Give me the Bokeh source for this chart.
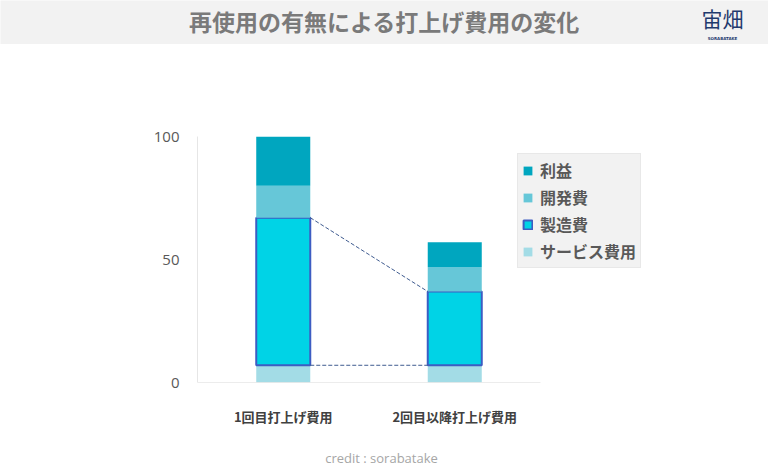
from bokeh.plotting import figure
from bokeh.models import Range1d, FixedTicker, Legend, LegendItem, ColumnDataSource
from bokeh.layouts import column
from bokeh.core.properties import value
from bokeh.embed import file_html
from bokeh.resources import INLINE

categories = ["1回目打上げ費用", "2回目以降打上げ費用"]
service = [7, 7]
manufacturing = [60, 30]
development = [13, 10]
profit = [20, 10]
series_names = ["サービス費用", "製造費", "開発費", "利益"]
y_ticks = [0, 50, 100]
title_text = "再使用の有無による打上げ費用の変化"
logo_text = "宙畑"
logo_sub = "SORABATAKE"
credit_text = "credit : sorabatake"

W = 768
BAR_W = 0.315
n = len(categories)
xs = [i + 0.5 for i in range(n)]

# ---------- header ----------
hdr = figure(width=W, height=44, output_backend="svg", toolbar_location=None,
             x_range=Range1d(0, W), y_range=Range1d(44, 0),
             x_axis_type=None, y_axis_type=None, min_border=0)
hdr.frame_align = False
hdr.outline_line_color = None
hdr.background_fill_color = "#F2F2F2"
hdr.border_fill_color = "#F2F2F2"
hdr.grid.visible = False
hdr.text(x=[384], y=[20], text=[title_text], text_font=value("Noto Sans CJK JP"),
         text_font_style="bold", text_font_size="23px", text_color="#7A7A7A",
         text_align="center", text_baseline="middle")
hdr.text(x=[722], y=[17], text=[logo_text], text_font=value("Noto Sans CJK JP"),
         text_font_size="21px", text_color="#1F3A6E",
         text_align="center", text_baseline="middle")
hdr.text(x=[722], y=[38], text=[logo_sub], text_font=value("DejaVu Sans"),
         text_font_style="bold", text_font_size="4px", text_color="#1F3A6E",
         text_align="center", text_baseline="middle")

# ---------- main chart ----------
src = ColumnDataSource(dict(x=xs, s=service, m=manufacturing, d=development, pr=profit))

p = figure(width=W, height=384, output_backend="svg", toolbar_location=None,
           x_range=Range1d(0, n * 471 / 343), y_range=Range1d(0, 100),
           min_border_left=197, min_border_right=100, min_border_top=92, min_border_bottom=44)
p.frame_align = False
p.outline_line_color = None
p.background_fill_color = "white"
p.border_fill_color = "white"
p.grid.visible = False

colors = ["#A3DCE6", "#00D3E6", "#66C7D8", "#00A6BF"]
rs = p.vbar_stack(["s", "m", "d", "pr"], x="x", width=BAR_W, source=src,
                  fill_color=colors,
                  line_color=[colors[0], "#3D5CC2", colors[2], colors[3]],
                  line_width=[0, 2, 0, 0])

# baseline
p.line([0, n], [0, 0], line_color="#D9D9D9", line_width=1)

# dashed connectors
x_right = xs[0] + BAR_W / 2
x_left = xs[1] - BAR_W / 2
top_m = [service[i] + manufacturing[i] for i in range(n)]
p.line([x_right, x_left], [top_m[0], top_m[1]], line_color="#3F5B8F", line_width=1, line_dash="4 2")
p.line([x_right, x_left], [service[0], service[1]], line_color="#3F5B8F", line_width=1, line_dash="4 2")

# axes
p.xaxis.ticker = FixedTicker(ticks=xs)
p.xaxis.major_label_overrides = {xs[i]: categories[i] for i in range(n)}
p.xaxis.major_tick_line_color = None
p.xaxis.minor_tick_line_color = None
p.xaxis.major_tick_out = 0
p.xaxis.major_tick_in = 0
p.xaxis.axis_line_color = None
p.xaxis.major_label_text_font = "Noto Sans CJK JP"
p.xaxis.major_label_text_font_style = "bold"
p.xaxis.major_label_text_font_size = "13px"
p.xaxis.major_label_text_color = "#404040"
p.xaxis.major_label_standoff = 24

p.yaxis.ticker = FixedTicker(ticks=y_ticks)
p.yaxis.major_tick_line_color = None
p.yaxis.minor_tick_line_color = None
p.yaxis.major_tick_out = 0
p.yaxis.major_tick_in = 0
p.yaxis.axis_line_color = "#E6E6E6"
p.yaxis.major_label_text_font = "Open Sans"
p.yaxis.major_label_text_font_size = "15px"
p.yaxis.major_label_text_color = "#595959"
p.yaxis.major_label_standoff = 18

# legend
order = [3, 2, 1, 0]
legend = Legend(items=[LegendItem(label=series_names[i], renderers=[rs[i]]) for i in order],
                location=(320, 114))
legend.background_fill_color = "#F2F2F2"
legend.background_fill_alpha = 1
legend.border_line_color = "#DDDDDD"
legend.label_text_font = "Noto Sans CJK JP"
legend.label_text_font_style = "bold"
legend.label_text_font_size = "16px"
legend.label_text_color = "#595959"
legend.glyph_width = 11
legend.glyph_height = 11
legend.label_height = 20
legend.spacing = 3
legend.padding = 4
legend.margin = 0
legend.label_standoff = 7
p.add_layout(legend, "center")

# ---------- credit ----------
ftr = figure(width=W, height=44, output_backend="svg", toolbar_location=None,
             x_range=Range1d(0, W), y_range=Range1d(44, 0),
             x_axis_type=None, y_axis_type=None, min_border=0)
ftr.frame_align = False
ftr.outline_line_color = None
ftr.background_fill_color = "white"
ftr.border_fill_color = "white"
ftr.grid.visible = False
ftr.text(x=[381], y=[29], text=[credit_text], text_font=value("Open Sans"),
         text_font_size="13px", text_color="#A6A6A6",
         text_align="center", text_baseline="middle")

layout = column(hdr, p, ftr, spacing=0)
open("out.html", "w").write(file_html(layout, INLINE))
